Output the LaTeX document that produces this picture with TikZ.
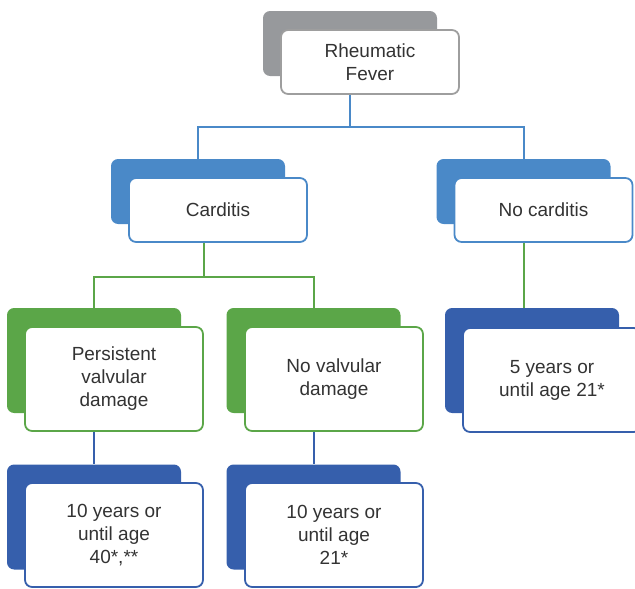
\documentclass[tikz,border=0pt]{standalone}
\usepackage{fontspec}
\setmainfont{Liberation Sans}
\usepackage{tikz}
\usetikzlibrary{calc, positioning}
\definecolor{rfgrey}{RGB}{151,153,156}
\definecolor{rfedge}{RGB}{158,158,158}
\definecolor{rfblue}{RGB}{74,137,200}
\definecolor{rfgreen}{RGB}{91,166,72}
\definecolor{rfnavy}{RGB}{54,95,172}
\definecolor{rftext}{RGB}{51,51,51}
\tikzset{
    backbox/.style={fill=#1, rounded corners=2.5mm, minimum width=174pt, minimum height=65pt, inner sep=0pt},
    tallback/.style={backbox=#1, minimum height=105pt},
    frontbox/.style={draw=#1, line width=1.8pt, fill=white, rounded corners=2.5mm, minimum width=178pt, minimum height=64pt, inner sep=0pt, align=center, text=rftext, font=\fontsize{19}{23}\selectfont},
    tallfront/.style={frontbox=#1, minimum height=104pt},
    link/.style={line width=2pt, draw=#1}
}

\begin{document}
\begin{tikzpicture}[x=1pt,y=1pt]
    \useasboundingbox (0,0) rectangle (635,-589);
    \clip (0,0) rectangle (635,-589);

    % Back plates
    \node[backbox=rfgrey]   (rfb)     at (350,-43.5)   {};
    \node[backbox=rfblue]   (cardb)   at (198,-191.5)  {};
    \node[backbox=rfblue]   (nocb)    at (523.5,-191.5) {};
    \node[tallback=rfgreen] (persb)   at (94,-360.5)   {};
    \node[tallback=rfgreen] (novalvb) at (313.5,-360.5) {};
    \node[tallback=rfnavy]  (fiveb)   at (532,-360.5)  {};
    \node[tallback=rfnavy]  (tenfb)   at (94,-517)     {};
    \node[tallback=rfnavy]  (tentb)   at (313.5,-517)  {};

    % Front boxes
    \node[frontbox=rfedge]   (rf)     at (370,-62)   {Rheumatic\\Fever};
    \node[frontbox=rfblue]   (card)   at (218,-210)  {Carditis};
    \node[frontbox=rfblue]   (noc)    at (543.5,-210) {No carditis};
    \node[tallfront=rfgreen] (pers)   at (114,-379)  {Persistent\\valvular\\damage};
    \node[tallfront=rfgreen] (novalv) at (334,-379)  {No valvular\\damage};
    \node[tallfront=rfnavy]  (five)   at (552,-380)  {5 years or\\until age 21*};
    \node[tallfront=rfnavy]  (tenf)   at (114,-535)  {10 years or\\until age\\40*,**};
    \node[tallfront=rfnavy]  (tent)   at (334,-535)  {10 years or\\until age\\21*};

    % Connectors
    \coordinate (j1) at (0,-127);
    \coordinate (j2) at (204,-277);
    \draw[link=rfblue] (rfb |- rf.south) -- (rfb |- j1);
    \draw[link=rfblue] (cardb.north) |- (nocb |- j1) -- (nocb.north);
    \draw[link=rfgreen] (j2 |- card.south) -- (j2);
    \draw[link=rfgreen] (persb.north) |- (j2) -| (novalvb.north);
    \draw[link=rfgreen] (nocb |- noc.south) -- (nocb |- fiveb.north);
    \draw[link=rfnavy] (persb |- pers.south) -- (tenfb.north);
    \draw[link=rfnavy] (novalvb |- novalv.south) -- (tentb.north);
\end{tikzpicture}
\end{document}
